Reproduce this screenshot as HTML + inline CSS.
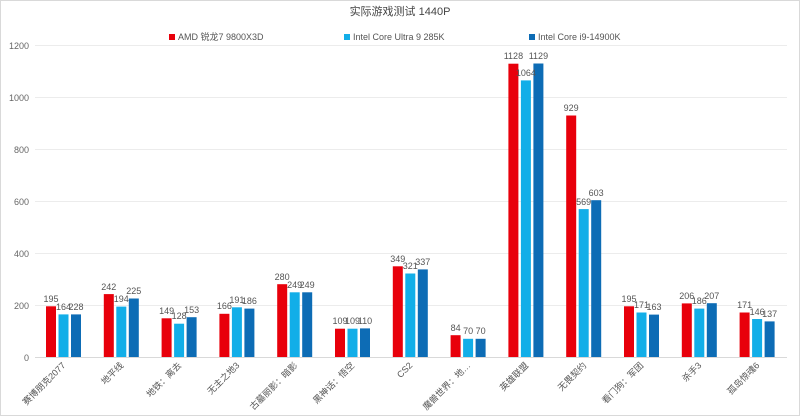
<!DOCTYPE html>
<html><head><meta charset="utf-8"><style>
html,body{margin:0;padding:0;background:#fff}
svg{display:block;font-family:"Liberation Sans","Noto Sans CJK SC",sans-serif}
</style></head><body>
<svg width="800" height="416" viewBox="0 0 800 416" xmlns="http://www.w3.org/2000/svg">
<rect x="0.5" y="0.5" width="799" height="415" fill="#fff" stroke="#d9d9d9"/>
<text x="400" y="15" text-anchor="middle" font-size="11" fill="#444">实际游戏测试 1440P</text>
<rect x="169" y="34" width="6" height="6" fill="#e8000b"/><text x="178" y="40" font-size="9" fill="#555">AMD 锐龙7 9800X3D</text>
<rect x="344" y="34" width="6" height="6" fill="#12aee8"/><text x="353" y="40" font-size="9" fill="#555">Intel Core Ultra 9 285K</text>
<rect x="529" y="34" width="6" height="6" fill="#0d6cb5"/><text x="538" y="40" font-size="9" fill="#555">Intel Core i9-14900K</text>
<g stroke="#ececec" stroke-width="1">
<line x1="35" x2="787" y1="45.5" y2="45.5"/><line x1="35" x2="787" y1="97.5" y2="97.5"/><line x1="35" x2="787" y1="149.5" y2="149.5"/><line x1="35" x2="787" y1="201.5" y2="201.5"/><line x1="35" x2="787" y1="253.5" y2="253.5"/><line x1="35" x2="787" y1="305.5" y2="305.5"/><line x1="35" x2="787" y1="357.5" y2="357.5" stroke="#d9d9d9"/>
</g>
<g font-size="9" fill="#666" text-anchor="end">
<text x="29" y="49">1200</text><text x="29" y="101">1000</text><text x="29" y="153">800</text><text x="29" y="205">600</text><text x="29" y="257">400</text><text x="29" y="309">200</text><text x="29" y="361">0</text>
</g>
<g fill="#e8000b">
<rect x="46" y="306.3" width="10" height="50.7"/><rect x="103.8" y="294.1" width="10" height="62.9"/><rect x="161.6" y="318.3" width="10" height="38.7"/><rect x="219.4" y="313.8" width="10" height="43.2"/><rect x="277.2" y="284.2" width="10" height="72.8"/><rect x="335" y="328.7" width="10" height="28.3"/><rect x="392.8" y="266.3" width="10" height="90.7"/><rect x="450.6" y="335.2" width="10" height="21.8"/><rect x="508.4" y="63.7" width="10" height="293.3"/><rect x="566.2" y="115.5" width="10" height="241.5"/><rect x="624" y="306.3" width="10" height="50.7"/><rect x="681.8" y="303.4" width="10" height="53.6"/><rect x="739.6" y="312.5" width="10" height="44.5"/>
</g>
<g fill="#12aee8">
<rect x="58.5" y="314.4" width="10" height="42.6"/><rect x="116.3" y="306.6" width="10" height="50.4"/><rect x="174.1" y="323.7" width="10" height="33.3"/><rect x="231.9" y="307.3" width="10" height="49.7"/><rect x="289.7" y="292.3" width="10" height="64.7"/><rect x="347.5" y="328.7" width="10" height="28.3"/><rect x="405.3" y="273.5" width="10" height="83.5"/><rect x="463.1" y="338.8" width="10" height="18.2"/><rect x="520.9" y="80.4" width="10" height="276.6"/><rect x="578.7" y="209.1" width="10" height="147.9"/><rect x="636.5" y="312.5" width="10" height="44.5"/><rect x="694.3" y="308.6" width="10" height="48.4"/><rect x="752.1" y="319" width="10" height="38"/>
</g>
<g fill="#0d6cb5">
<rect x="71" y="314.4" width="10" height="42.6"/><rect x="128.8" y="298.5" width="10" height="58.5"/><rect x="186.6" y="317.2" width="10" height="39.8"/><rect x="244.4" y="308.6" width="10" height="48.4"/><rect x="302.2" y="292.3" width="10" height="64.7"/><rect x="360" y="328.4" width="10" height="28.6"/><rect x="417.8" y="269.4" width="10" height="87.6"/><rect x="475.6" y="338.8" width="10" height="18.2"/><rect x="533.4" y="63.5" width="10" height="293.5"/><rect x="591.2" y="200.2" width="10" height="156.8"/><rect x="649" y="314.6" width="10" height="42.4"/><rect x="706.8" y="303.2" width="10" height="53.8"/><rect x="764.6" y="321.4" width="10" height="35.6"/>
</g>
<g font-size="9" fill="#555" text-anchor="middle">
<text x="51" y="302">195</text><text x="63.5" y="310">164</text><text x="76" y="310">228</text>
<text x="108.8" y="290">242</text><text x="121.3" y="302">194</text><text x="133.8" y="294">225</text>
<text x="166.6" y="314">149</text><text x="179.1" y="319">128</text><text x="191.6" y="313">153</text>
<text x="224.4" y="309">166</text><text x="236.9" y="303">191</text><text x="249.4" y="304">186</text>
<text x="282.2" y="280">280</text><text x="294.7" y="288">249</text><text x="307.2" y="288">249</text>
<text x="340" y="324">109</text><text x="352.5" y="324">109</text><text x="365" y="324">110</text>
<text x="397.8" y="262">349</text><text x="410.3" y="269">321</text><text x="422.8" y="265">337</text>
<text x="455.6" y="331">84</text><text x="468.1" y="334">70</text><text x="480.6" y="334">70</text>
<text x="513.4" y="59">1128</text><text x="525.9" y="76">1064</text><text x="538.4" y="59">1129</text>
<text x="571.2" y="111">929</text><text x="583.7" y="205">569</text><text x="596.2" y="196">603</text>
<text x="629" y="302">195</text><text x="641.5" y="308">171</text><text x="654" y="310">163</text>
<text x="686.8" y="299">206</text><text x="699.3" y="304">186</text><text x="711.8" y="299">207</text>
<text x="744.6" y="308">171</text><text x="757.1" y="315">146</text><text x="769.6" y="317">137</text>
</g>
<g font-size="9" fill="#555" text-anchor="end">
<text transform="translate(66,366) rotate(-45)">赛博朋克2077</text>
<text transform="translate(124,366) rotate(-45)">地平线</text>
<text transform="translate(182,366) rotate(-45)">地铁：离去</text>
<text transform="translate(240,366) rotate(-45)">无主之地3</text>
<text transform="translate(298,366) rotate(-45)">古墓丽影：暗影</text>
<text transform="translate(355,366) rotate(-45)">黑神话：悟空</text>
<text transform="translate(413,366) rotate(-45)">CS2</text>
<text transform="translate(471,366) rotate(-45)">魔兽世界：地…</text>
<text transform="translate(529,366) rotate(-45)">英雄联盟</text>
<text transform="translate(587,366) rotate(-45)">无畏契约</text>
<text transform="translate(644,366) rotate(-45)">看门狗：军团</text>
<text transform="translate(702,366) rotate(-45)">杀手3</text>
<text transform="translate(760,366) rotate(-45)">孤岛惊魂6</text>
</g>
</svg>
</body></html>
